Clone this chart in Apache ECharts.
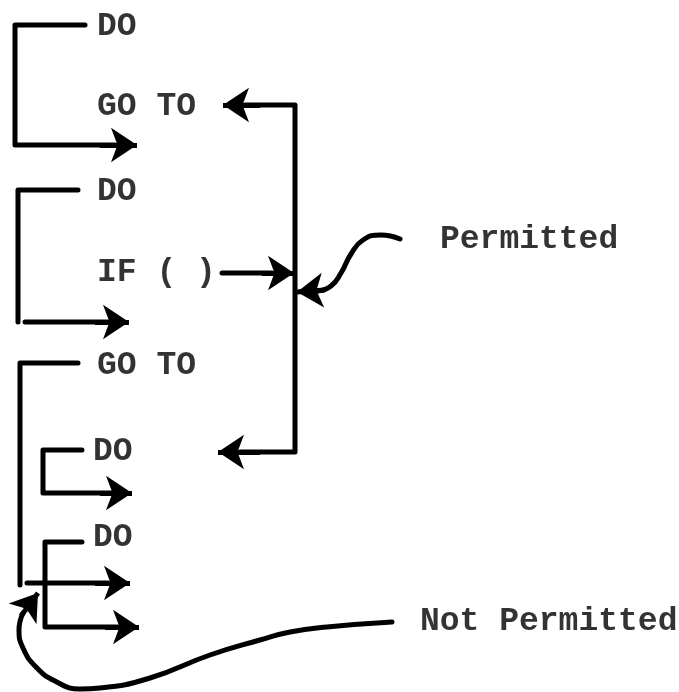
<!DOCTYPE html>
<html>
<head>
<meta charset="utf-8">
<script src="https://cdn.jsdelivr.net/npm/echarts@6/dist/echarts.min.js"></script>
<style>
html, body { margin: 0; padding: 0; background: #fff; }
#main { width: 679px; height: 692px; }
</style>
</head>
<body>
<div id="main"></div>
<script>
// 文字标签: [x(左), y(中), 文本]
var labelX = [97, 97, 97, 97, 97, 93, 93, 440, 420];
var labelY = [27, 107, 192, 273, 366, 452, 538, 240, 622];
var labelText = ['DO', 'GO TO', 'DO', 'IF ( )', 'GO TO', 'DO', 'DO', 'Permitted', 'Not Permitted'];

// 折线 (括号和竖线)
var bracketPaths = [
	[[85, 25], [15, 25], [15, 145], [115, 145]],
	[[78, 190], [18, 190], [18, 322]],
	[[25, 322], [108, 322]],
	[[78, 363], [20, 363], [20, 585]],
	[[27, 583], [108, 583]],
	[[82, 450], [43, 450], [43, 493], [112, 493]],
	[[82, 542], [45, 542], [45, 627], [118, 627]],
	[[245, 105], [295, 105], [295, 452], [240, 452]],
	[[222, 273], [272, 273]]
];

// 曲线
var permittedCurve = [[400, 239], [381, 235], [363, 240], [351, 254], [341, 273], [331, 286], [318, 291]];
var notPermittedCurve = [[392, 622], [327, 627], [290, 632], [260, 640], [210, 655], [150, 678], [100, 688],
	[80, 689], [55, 681], [36, 667], [23, 648], [19, 630], [23, 613]];

// 箭头段 [起点, 终点]
var arrowSegments = [
	[[100, 145], [137, 145]],
	[[95, 322], [129, 322]],
	[[95, 583], [130, 583]],
	[[100, 493], [132, 493]],
	[[105, 627], [139, 627]],
	[[260, 105], [223, 105]],
	[[260, 452], [218, 452]],
	[[262, 273], [294, 273]],
	[[325, 290], [297, 292]],
	[[21, 616], [38, 593]]
];

var lineStyle = { color: '#000', width: 5, cap: 'round', join: 'round' };

var series = [];
bracketPaths.forEach(function(p) {
	series.push({ type: 'line', data: p, showSymbol: false, symbol: 'none', lineStyle: lineStyle, silent: true });
});
series.push({ type: 'line', data: permittedCurve, smooth: 0.5, symbol: 'none', lineStyle: lineStyle, silent: true });
series.push({ type: 'line', data: notPermittedCurve, smooth: 0.5, symbol: 'none', lineStyle: lineStyle, silent: true });
series.push({
	type: 'lines',
	coordinateSystem: 'cartesian2d',
	symbol: ['none', 'arrow'],
	symbolSize: 26,
	lineStyle: { color: '#000', width: 5, opacity: 1 },
	data: arrowSegments.map(function(s) { return { coords: s }; }),
	silent: true
});
series.push({
	type: 'scatter',
	symbolSize: 0,
	data: labelText.map(function(t, i) { return { name: t, value: [labelX[i], labelY[i]] }; }),
	label: {
		show: true,
		position: 'right',
		distance: 0,
		formatter: '{b}',
		color: '#000',
		fontFamily: "'Liberation Mono', 'DejaVu Sans Mono', monospace",
		fontWeight: 'bold',
		fontSize: 33
	},
	silent: true
});

var myChart = echarts.init(document.getElementById('main'));
option = {
	animation: false,
	backgroundColor: '#fff',
	grid: { left: 0, right: 0, top: 0, bottom: 0 },
	xAxis: { type: 'value', min: 0, max: 679, show: false },
	yAxis: { type: 'value', min: 0, max: 692, inverse: true, show: false },
	series: series
};
myChart.setOption(option);
</script>
</body>
</html>
